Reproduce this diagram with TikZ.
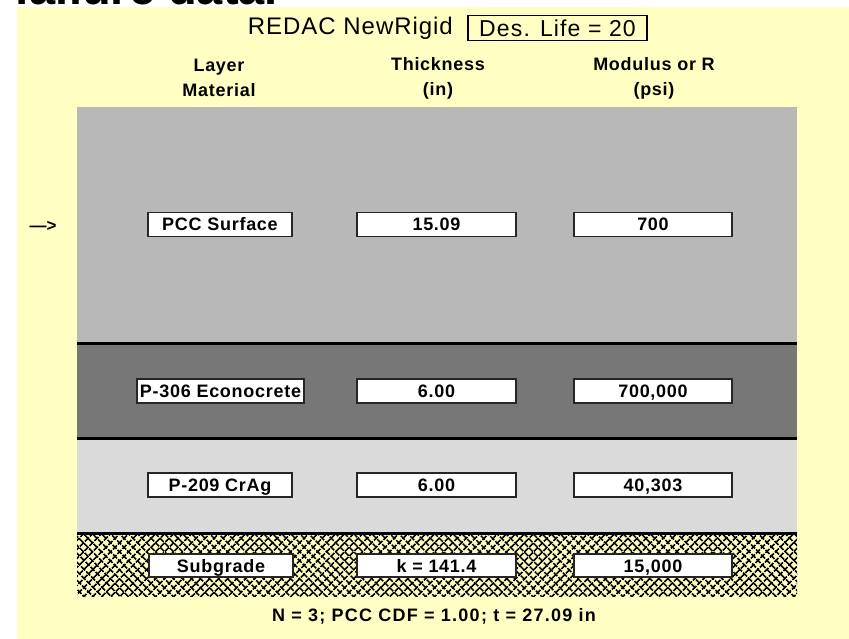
\documentclass[tikz,border=0pt]{standalone}
\usepackage{fontspec}
\setmainfont{Liberation Sans}
\usetikzlibrary{patterns.meta, positioning}

\definecolor{paneyellow}{HTML}{FFFFC4}
\definecolor{layerA}{HTML}{B8B8B8}
\definecolor{layerB}{HTML}{777777}
\definecolor{layerC}{HTML}{DADADA}

\begin{document}
\begin{tikzpicture}[
    x=1pt, y=-1pt, % one unit = one pixel of the screen shot
    boundary/.style={line width=3pt, black}, % Style for lines between layers
    hatch/.style={pattern={Lines[angle=#1, distance=6.4pt, line width=1.8pt]}}, % Style for subgrade hatch
    valbox/.style={draw=black!85, line width=1.4pt, fill=white, minimum height=24pt, inner sep=1pt,
        text height=13pt, text depth=0pt,
        font=\fontsize{18}{20}\selectfont\bfseries\addfontfeature{LetterSpace=4}}, % Style for input boxes
    matbox/.style={valbox, minimum width=144pt}, % Style for material boxes
    numbox/.style={valbox, minimum width=158pt}, % Style for number boxes
    colhead/.style={align=center, font=\fontsize{18}{25}\selectfont\bfseries\addfontfeature{LetterSpace=4}}, % Style for column heads
    titletext/.style={font=\fontsize{24}{26}\selectfont\addfontfeature{LetterSpace=4}} % Style for title line
]

    % --- Window ---
    \clip (0,0) rectangle (849,639);
    \fill[white] (0,0) rectangle (849,639);
    \fill[paneyellow] (17,7) rectangle (849,639);
    \node[anchor=base west, inner sep=0pt, font=\fontsize{47}{50}\selectfont\bfseries] (cut) at (14,5) {failure data.};

    % --- Title ---
    \node[draw=black, line width=1.2pt, titletext, font=\fontsize{23}{26}\selectfont\addfontfeature{LetterSpace=5},
        minimum width=179pt, minimum height=25pt, inner sep=1pt] (life) at (557.5,28) {Des. Life = 20};
    \node[titletext, left=11pt of life] (redac) {REDAC NewRigid};

    % --- Column heads ---
    \node[colhead] (hmat) at (219,78) {Layer\\Material};
    \node[colhead] (hthk) at (438,78) {Thickness\\(in)};
    \node[colhead] (hmod) at (654,78) {Modulus or R\\(psi)};

    % --- Layers ---
    \fill[layerA] (77,107) rectangle (797,343);
    \fill[layerB] (77,343) rectangle (797,438);
    \fill[layerC] (77,438) rectangle (797,533);
    \fill[hatch=45] (77,535) rectangle (797,596);
    \fill[hatch=-45] (77,535) rectangle (797,596);
    \draw[boundary] (77,343.5) -- (797,343.5);
    \draw[boundary] (77,438.5) -- (797,438.5);
    \draw[boundary] (77,533.5) -- (797,533.5);

    % current layer marker
    \node[font=\fontsize{17}{18}\selectfont\bfseries] (cur) at (43,226) {—>};

    % --- Layer values ---
    \node[matbox] (m1) at (220,224.5) {PCC Surface};
    \node[numbox, minimum width=159pt] (t1) at (436.5,224.5) {15.09};
    \node[numbox] (e1) at (653,224.5) {700};

    \node[matbox, minimum width=167pt] (m2) at (220.5,391) {P-306 Econocrete};
    \node[numbox, minimum width=159pt] (t2) at (436.5,391) {6.00};
    \node[numbox] (e2) at (653,391) {700,000};

    \node[matbox] (m3) at (220,485) {P-209 CrAg};
    \node[numbox, minimum width=159pt] (t3) at (436.5,485) {6.00};
    \node[numbox] (e3) at (653,485) {40,303};

    \node[matbox, minimum height=23pt] (m4) at (221,565.5) {Subgrade};
    \node[numbox, minimum width=159pt, minimum height=23pt] (t4) at (436.5,565.5) {k = 141.4};
    \node[numbox, minimum height=23pt] (e4) at (653,565.5) {15,000};

    % --- Summary ---
    \node[font=\fontsize{18}{20}\selectfont\bfseries\addfontfeature{LetterSpace=7}] (summary) at (434,616) {N = 3; PCC CDF = 1.00; t = 27.09 in};

\end{tikzpicture}
\end{document}
